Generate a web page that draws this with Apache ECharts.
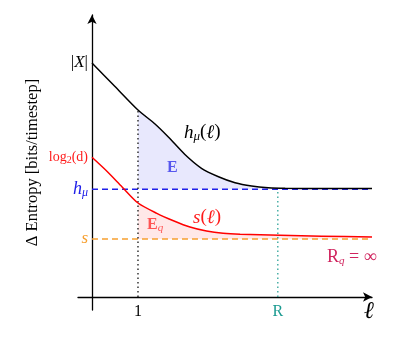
<!DOCTYPE html>
<html>
<head>
<meta charset="utf-8">
<script src="https://cdn.jsdelivr.net/npm/echarts@6/dist/echarts.min.js"></script>
<style>
  html, body { margin: 0; padding: 0; background: #fff; }
  #chart { width: 416px; height: 345px; }
</style>
</head>
<body>
<div id="chart"></div>
<script>
// block length l (x) and entropy values
const hmuX = [0, 0.5, 1, 1.37, 1.66, 2.02, 2.38, 2.75, 3.11, 3.47, 3.83, 4.2, 5, 6.087];
const hmuY = [23.4, 21.05, 18.7, 17.3, 16.0, 14.25, 12.87, 12.03, 11.43, 11.1, 10.93, 10.87, 10.85, 10.85];
const sX = [0, 0.33, 0.65, 1, 1.41, 1.77, 2.13, 2.49, 2.85, 3.22, 4.09, 5, 6.087];
const sY = [13.97, 12.55, 11.03, 9.4, 8.37, 7.63, 7.0, 6.6, 6.37, 6.27, 6.17, 6.08, 6.0];

const hmu = 10.78;     // entropy rate
const sInf = 5.8;      // s asymptote
const logd = 14.0;     // log2(d)
const alphabet = 23.4; // |X|
const R = 4.04;        // Markov order
const xEnd = 6.087;

const yTicks = [sInf, hmu, logd, alphabet];
const xTicks = [1, R];

const serif = "'Liberation Serif', 'DejaVu Serif', serif";

function pairs(xs, ys, from, to) {
  const out = [];
  xs.forEach((x, i) => { if (x >= from && x <= to) out.push([x, ys[i]]); });
  return out;
}

const chart = echarts.init(document.getElementById('chart'));
const curve = { type: 'line', symbol: 'none', smooth: 0.25 };
const option = {
  animation: false,
  grid: { left: 78, right: 44, top: 15, bottom: 35 },
  xAxis: {
    type: 'value', min: -0.304, max: xEnd,
    splitLine: { show: false },
    axisTick: { show: false },
    axisLine: { onZero: true, symbol: ['none', 'arrow'], symbolSize: [7, 9], lineStyle: { color: '#000', width: 1.3 } },
    axisLabel: {
      customValues: xTicks, margin: -6, fontFamily: serif, fontSize: 15,
      formatter: v => v === 1 ? '{k|1}' : '{t|R}',
      rich: { k: { color: '#000', fontFamily: serif, fontSize: 16 }, t: { color: '#1a9a90', fontFamily: serif, fontSize: 16 } }
    }
  },
  yAxis: {
    type: 'value', min: -1.3, max: 28.2,
    splitLine: { show: false },
    axisTick: { show: false },
    axisLine: { onZero: true, symbol: ['none', 'arrow'], symbolSize: [7, 9], lineStyle: { color: '#000', width: 1.3 } },
    name: 'Δ Entropy [bits/timestep]',
    nameLocation: 'middle', nameRotate: 90, nameGap: 37, nameMoveOverlap: false,
    nameTextStyle: { fontFamily: serif, fontSize: 16.5, color: '#000' },
    axisLabel: {
      customValues: yTicks, margin: -10, fontFamily: serif,
      formatter: v => {
        if (v === alphabet) return '{k||}{ki|X}{k||}';
        if (v === logd) return '{r|log}{rs|2}{r|(d)}';
        if (v === hmu) return '{b|h}{bs|μ}';
        return '{o|s}';
      },
      rich: {
        k: { color: '#000', fontFamily: serif, fontSize: 17 },
        ki: { color: '#000', fontFamily: serif, fontSize: 17, fontStyle: 'italic' },
        r: { color: '#ff1a1a', fontFamily: serif, fontSize: 14 },
        rs: { color: '#ff1a1a', fontFamily: serif, fontSize: 10, padding: [6, 0, 0, 0] },
        b: { color: '#2020e8', fontFamily: serif, fontSize: 18, fontStyle: 'italic' },
        bs: { color: '#2020e8', fontFamily: serif, fontSize: 12, fontStyle: 'italic', padding: [8, 0, 0, 0] },
        o: { color: '#f7a030', fontFamily: serif, fontSize: 17, fontStyle: 'italic' }
      }
    }
  },
  series: [
    { // E : area between h_mu(l) and h_mu for l >= 1
      ...curve, data: pairs(hmuX, hmuY, 1, xEnd),
      lineStyle: { width: 0 }, areaStyle: { origin: hmu, color: 'rgba(190,190,250,0.5)' }, z: 1
    },
    { // E_q : area between s(l) and s for l >= 1
      ...curve, data: pairs(sX, sY, 1, xEnd),
      lineStyle: { width: 0 }, areaStyle: { origin: sInf, color: 'rgba(255,190,190,0.5)' }, z: 1
    },
    { type: 'line', data: [[0, hmu], [xEnd, hmu]], symbol: 'none',
      lineStyle: { color: '#2020e8', width: 1.4, type: [6, 4] }, z: 2 },
    { type: 'line', data: [[0, sInf], [xEnd, sInf]], symbol: 'none',
      lineStyle: { color: '#f7a030', width: 1.4, type: [6, 4] }, z: 2 },
    { type: 'line', data: [[1, 0], [1, 18.7]], symbol: 'none',
      lineStyle: { color: '#000', width: 1.2, type: [1.5, 3] }, z: 2 },
    { type: 'line', data: [[R, 0], [R, hmu]], symbol: 'none',
      lineStyle: { color: '#1a9a90', width: 1.2, type: [1.5, 3] }, z: 2 },
    { ...curve, data: pairs(hmuX, hmuY, 0, xEnd), lineStyle: { color: '#000', width: 1.5 }, z: 3 },
    { ...curve, data: pairs(sX, sY, 0, xEnd), lineStyle: { color: '#ff0000', width: 1.5 }, z: 3 }
  ],
  graphic: [
    { type: 'text', left: 184, top: 123, style: {
      text: '{i|h}{s|μ}{n|(}{i|ℓ}{n|)}', rich: {
        i: { fontFamily: serif, fontSize: 19, fontStyle: 'italic', fill: '#000' },
        s: { fontFamily: serif, fontSize: 13, fontStyle: 'italic', fill: '#000', padding: [8, 0, 0, 0] },
        n: { fontFamily: serif, fontSize: 19, fill: '#000' } } } },
    { type: 'text', left: 167, top: 160, style: { text: 'E', fontFamily: serif, fontSize: 16, fontWeight: 'bold', fill: '#2020e8' } },
    { type: 'text', left: 193, top: 208, style: {
      text: '{i|s}{n|(}{i|ℓ}{n|)}', rich: {
        i: { fontFamily: serif, fontSize: 19, fontStyle: 'italic', fill: '#ff1a1a' },
        n: { fontFamily: serif, fontSize: 19, fill: '#ff1a1a' } } } },
    { type: 'text', left: 147, top: 217, style: {
      text: '{b|E}{s|q}', rich: {
        b: { fontFamily: serif, fontSize: 16, fontWeight: 'bold', fill: '#ff1a1a' },
        s: { fontFamily: serif, fontSize: 11, fontStyle: 'italic', fill: '#ff1a1a', padding: [7, 0, 0, 0] } } } },
    { type: 'text', left: 327, top: 248, style: {
      text: '{n|R}{s|q}{n| = ∞}', rich: {
        n: { fontFamily: serif, fontSize: 18, fill: '#d0245e' },
        s: { fontFamily: serif, fontSize: 11, fontStyle: 'italic', fill: '#d0245e', padding: [8, 0, 0, 0] } } } },
    { type: 'text', left: 364, top: 300, style: { text: 'ℓ', fontFamily: serif, fontSize: 24, fontStyle: 'italic', fill: '#000' } }
  ]
};
chart.setOption(option);
</script>
</body>
</html>
